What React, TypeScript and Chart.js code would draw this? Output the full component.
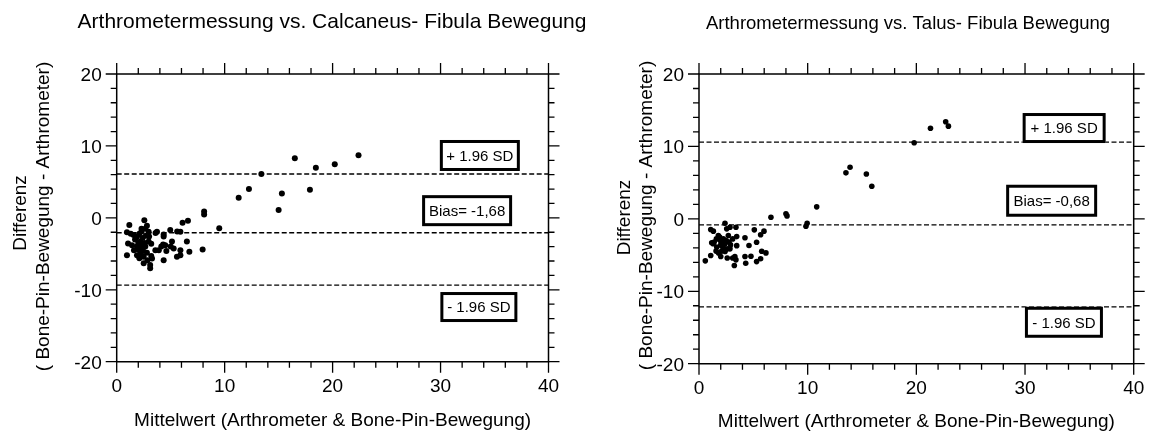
import { useEffect, useRef } from "react";
import { Chart, registerables } from "chart.js";

Chart.register(...registerables);

// ---------- DATA ----------
const xMajorTicks = [0, 10, 20, 30, 40];
const xMinorTicks = [2, 4, 6, 8, 12, 14, 16, 18, 22, 24, 26, 28, 32, 34, 36, 38];
const yMajorTicks = [-20, -10, 0, 10, 20];
const yMinorTicks = [-18, -16, -14, -12, -8, -6, -4, -2, 2, 4, 6, 8, 12, 14, 16, 18];
const xTickLabels = ["0", "10", "20", "30", "40"];
const yTickLabels = ["-20", "-10", "0", "10", "20"];

const titleCalc = "Arthrometermessung vs. Calcaneus- Fibula Bewegung";
const titleTalus = "Arthrometermessung vs. Talus- Fibula Bewegung";
const xAxisTitle = "Mittelwert (Arthrometer & Bone-Pin-Bewegung)";
const yAxisTitle = ["Differenz", "( Bone-Pin-Bewegung - Arthrometer)"];

// Calcaneus–Fibula: mean (x) and difference (y)
const calcMean = [
  8.1, 8.1, 9.5, 11.3, 12.25, 13.4, 16.5, 15.0, 15.3, 17.9, 18.45, 20.2, 22.4,
  1.17, 2.56, 0.95, 2.65, 2.96, 3.73, 4.35, 4.96, 5.9, 6.1, 6.6, 1.57, 1.88, 1.05,
  1.42, 1.88, 2.19, 2.34, 2.65, 2.19, 2.0, 2.5, 2.8, 2.96, 0.95, 1.88, 2.5, 3.1,
  3.1, 3.27, 3.58, 4.35, 4.13, 4.5, 5.12, 5.28, 5.9, 5.58, 5.9, 6.5, 6.73, 7.96,
  4.35, 2.8, 2.3, 2.1, 1.7, 2.4, 2.7, 2.2, 1.6, 2.6, 3.0, 2.45, 2.1, 3.2, 3.9,
  4.3, 4.6, 2.3, 3.2, 1.3, 2.0, 2.85, 5.0, 3.6, 5.6,
];
const calcDiff = [
  0.9, 0.45, -1.45, 2.8, 4.0, 6.1, 8.3, 1.1, 3.4, 3.9, 6.95, 7.45, 8.7,
  -1.0, -0.32, -2.0, -1.5, -1.94, -1.94, -2.3, -1.7, -1.94, -0.69, -0.4, -2.4, -2.6, -3.56,
  -3.8, -4.0, -3.3, -4.25, -4.0, -4.95, -4.4, -5.4, -4.85, -3.3, -5.2, -5.2, -6.3, -6.57,
  -7.0, -5.64, -4.49, -5.9, -4.0, -3.8, -3.3, -4.25, -4.5, -5.4, -5.2, -3.3, -4.7, -4.4,
  -2.6, -1.1, -1.9, -2.2, -3.0, -2.8, -2.5, -3.7, -4.5, -3.5, -2.6, -4.6, -5.6, -5.3, -4.5,
  -3.7, -4.6, -1.5, -3.6, -2.2, -3.5, -5.9, -4.0, -2.1, -1.9,
];
const calcLimits = [6.1, -2.08, -9.35];
const calcLabels = ["+ 1.96 SD", "Bias= -1,68", "- 1.96 SD"];

// Talus–Fibula
const talusMean = [
  6.62, 8.0, 8.1, 9.84, 9.95, 10.83, 13.52, 13.9, 15.4, 15.9, 19.8, 21.3, 22.7, 22.95,
  0.58, 1.08, 1.08, 1.32, 1.17, 1.4, 1.6, 1.78, 1.63, 1.57, 2.0, 2.09, 2.24, 2.39,
  2.55, 2.7, 2.76, 2.6, 2.4, 2.6, 2.85, 3.4, 3.1, 3.47, 3.47, 3.1, 3.3, 3.4, 3.25,
  4.23, 4.6, 4.23, 4.3, 4.78, 5.09, 5.3, 5.67, 5.98, 5.3, 5.67, 5.77, 6.16, 1.96,
  2.24, 2.09, 2.85, 1.3, 2.39, 1.9, 2.5, 2.2, 1.8, 2.9, 2.0,
];
const talusDiff = [
  0.22, 0.69, 0.41, -1.02, -0.6, 1.66, 6.35, 7.13, 6.2, 4.5, 10.5, 12.5, 13.4, 12.8,
  -5.8, -5.07, -1.48, -1.7, -3.3, -3.2, -2.77, -2.3, -3.9, -4.45, -5.2, -3.7, -2.77, -0.6,
  -1.38, -2.3, -3.2, -4.14, -4.5, -5.4, -1.16, -1.16, -2.77, -2.45, -3.7, -5.4, -5.2, -5.66, -6.45,
  -2.6, -3.69, -5.2, -6.13, -5.16, -1.52, -3.23, -2.2, -1.7, -5.9, -5.5, -4.47, -4.7, -3.0,
  -4.0, -4.45, -4.14, -3.44, -3.44, -2.5, -3.0, -3.3, -4.7, -3.6, -3.6,
];
const talusLimits = [10.6, -0.83, -12.15];
const talusLabels = ["+ 1.96 SD", "Bias= -0,68", "- 1.96 SD"];

// ---------- LAYOUT / STYLE ----------
const FONT = '"Liberation Sans", Arial, Helvetica, sans-serif';

type Box = { x: number; y: number; w: number; h: number };
type PanelCfg = {
  left: number;
  width: number;
  padding: { left: number; right: number; top: number; bottom: number };
  title: string;
  titleSize: number;
  titleX: number;
  titleY: number;
  xs: number[];
  ys: number[];
  limits: number[];
  labels: string[];
  boxes: Box[];
  pointRadius: number;
  yLab1X: number;
  yLab1Y: number;
  yLab2X: number;
  yLab2Y: number;
  xLabY: number;
  xTickY: number;
};

const panels: PanelCfg[] = [
  {
    left: 0,
    width: 640,
    padding: { left: 116.7, right: 640 - 548.5, top: 74, bottom: 432 - 361.7 },
    title: titleCalc,
    titleSize: 21,
    titleX: 332,
    titleY: 27.5,
    xs: calcMean,
    ys: calcDiff,
    limits: calcLimits,
    labels: calcLabels,
    boxes: [
      { x: 33.64, y: 8.67, w: 80, h: 31 },
      { x: 32.46, y: 1.0, w: 90, h: 31 },
      { x: 33.55, y: -12.4, w: 77, h: 30 },
    ],
    pointRadius: 3,
    yLab1X: 25.5,
    yLab1Y: 213,
    yLab2X: 49,
    yLab2Y: 216.5,
    xLabY: 426,
    xTickY: 30,
  },
  {
    left: 575,
    width: 574,
    padding: { left: 124, right: 574 - 558.7, top: 74, bottom: 432 - 363.7 },
    title: titleTalus,
    titleSize: 18.5,
    titleX: 333,
    titleY: 29,
    xs: talusMean,
    ys: talusDiff,
    limits: talusLimits,
    labels: talusLabels,
    boxes: [
      { x: 33.6, y: 12.54, w: 83, h: 30 },
      { x: 32.45, y: 2.5, w: 91, h: 32 },
      { x: 33.58, y: -14.28, w: 78, h: 31 },
    ],
    pointRadius: 2.8,
    yLab1X: 55,
    yLab1Y: 217.5,
    yLab2X: 77,
    yLab2Y: 215.5,
    xLabY: 427,
    xTickY: 30,
  },
];

function makePlugin(cfg: PanelCfg) {
  return {
    id: "blandAltmanFrame",
    afterDatasetsDraw(chart: any) {
      const ctx: CanvasRenderingContext2D = chart.ctx;
      const xs = chart.scales.x;
      const ys = chart.scales.y;
      const a = chart.chartArea;
      const MAJ = 11;
      const MIN = 6;
      ctx.save();
      ctx.strokeStyle = "#000";
      ctx.lineWidth = 1.5;
      ctx.lineCap = "butt";
      ctx.beginPath();
      ctx.rect(a.left, a.top, a.right - a.left, a.bottom - a.top);
      ctx.stroke();

      ctx.lineWidth = 1.3;
      ctx.beginPath();
      const xt = (v: number, len: number) => {
        const p = xs.getPixelForValue(v);
        ctx.moveTo(p, a.bottom);
        ctx.lineTo(p, a.bottom + len);
        ctx.moveTo(p, a.top);
        ctx.lineTo(p, a.top - len);
      };
      const yt = (v: number, len: number) => {
        const p = ys.getPixelForValue(v);
        ctx.moveTo(a.left, p);
        ctx.lineTo(a.left - len, p);
        ctx.moveTo(a.right, p);
        ctx.lineTo(a.right + len, p);
      };
      xMajorTicks.forEach((v) => xt(v, MAJ));
      xMinorTicks.forEach((v) => xt(v, MIN));
      yMajorTicks.forEach((v) => yt(v, MAJ));
      yMinorTicks.forEach((v) => yt(v, MIN));
      ctx.stroke();

      // annotation boxes
      ctx.font = `15px ${FONT}`;
      ctx.textAlign = "center";
      ctx.textBaseline = "alphabetic";
      cfg.boxes.forEach((b, i) => {
        const cx = xs.getPixelForValue(b.x);
        const cy = ys.getPixelForValue(b.y);
        const l = cx - b.w / 2;
        const t = cy - b.h / 2;
        ctx.fillStyle = "#fff";
        ctx.fillRect(l, t, b.w, b.h);
        ctx.lineWidth = 3;
        ctx.strokeStyle = "#000";
        ctx.strokeRect(l + 1.5, t + 1.5, b.w - 3, b.h - 3);
        ctx.fillStyle = "#000";
        ctx.fillText(cfg.labels[i], cx, cy + 5.4);
      });
      ctx.restore();
    },
    afterDraw(chart: any) {
      const ctx: CanvasRenderingContext2D = chart.ctx;
      const xs = chart.scales.x;
      const ys = chart.scales.y;
      const a = chart.chartArea;
      ctx.save();
      ctx.fillStyle = "#000";
      // tick labels
      ctx.font = `19px ${FONT}`;
      ctx.textBaseline = "alphabetic";
      ctx.textAlign = "center";
      xMajorTicks.forEach((v, i) => {
        ctx.fillText(xTickLabels[i], xs.getPixelForValue(v), a.bottom + cfg.xTickY);
      });
      ctx.textAlign = "right";
      yMajorTicks.forEach((v, i) => {
        ctx.fillText(yTickLabels[i], a.left - 15, ys.getPixelForValue(v) + 6.8);
      });
      // x axis title
      ctx.textAlign = "center";
      ctx.fillText(xAxisTitle, (a.left + a.right) / 2, cfg.xLabY);
      // y axis title (rotated)
      ctx.save();
      ctx.translate(cfg.yLab1X, cfg.yLab1Y);
      ctx.rotate(-Math.PI / 2);
      ctx.fillText(yAxisTitle[0], 0, 0);
      ctx.restore();
      ctx.save();
      ctx.translate(cfg.yLab2X, cfg.yLab2Y);
      ctx.rotate(-Math.PI / 2);
      ctx.fillText(yAxisTitle[1], 0, 0);
      ctx.restore();
      // title
      ctx.font = `${cfg.titleSize}px ${FONT}`;
      ctx.fillText(cfg.title, cfg.titleX, cfg.titleY);
      ctx.restore();
    },
  };
}

function Panel({ cfg }: { cfg: PanelCfg }) {
  const ref = useRef<HTMLCanvasElement>(null);
  useEffect(() => {
    const pts = cfg.xs.map((x, i) => ({ x, y: cfg.ys[i] }));
    const limitSets = cfg.limits.map((v) => ({
      type: "line" as const,
      data: [
        { x: 0, y: v },
        { x: 40, y: v },
      ],
      borderColor: "#000",
      borderWidth: 1.4,
      borderDash: [5, 2.5],
      pointRadius: 0,
      fill: false,
      tension: 0,
    }));
    const chart = new Chart(ref.current as HTMLCanvasElement, {
      type: "scatter",
      data: {
        datasets: [
          {
            type: "scatter",
            data: pts,
            backgroundColor: "#000",
            borderColor: "#000",
            borderWidth: 0,
            pointRadius: cfg.pointRadius,
            pointHoverRadius: cfg.pointRadius,
          } as any,
          ...(limitSets as any[]),
        ],
      },
      options: {
        responsive: false,
        maintainAspectRatio: false,
        animation: false,
        devicePixelRatio: 1,
        events: [],
        layout: { padding: cfg.padding },
        scales: {
          x: { type: "linear", min: 0, max: 40, display: false },
          y: { type: "linear", min: -20, max: 20, display: false },
        },
        plugins: {
          legend: { display: false },
          tooltip: { enabled: false },
          title: { display: false },
        },
      },
      plugins: [makePlugin(cfg)],
    });
    return () => chart.destroy();
  }, [cfg]);
  return (
    <canvas
      ref={ref}
      width={cfg.width}
      height={432}
      style={{ position: "absolute", left: cfg.left, top: 0, width: cfg.width, height: 432 }}
    />
  );
}

export default function App() {
  return (
    <div style={{ position: "absolute", left: 0, top: 0, width: 1149, height: 432, background: "#fff" }}>
      {panels.map((p, i) => (
        <Panel key={i} cfg={p} />
      ))}
    </div>
  );
}
